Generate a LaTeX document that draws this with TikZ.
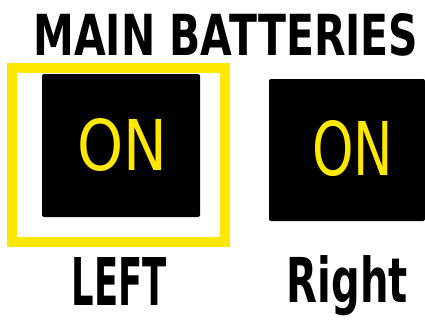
\documentclass[tikz,border=0pt]{standalone}
\usepackage{graphicx}
\usepackage{fontspec}
\setmainfont{DejaVu Sans}
\usetikzlibrary{positioning}
\definecolor{swyellow}{HTML}{FFE800}
\tikzset{
  panel/.style = {rectangle, fill=black, rounded corners=2pt, inner sep=0pt},
  frame/.style = {rectangle, draw=swyellow, line width=10pt, inner sep=0pt},
  onlbl/.style = {text=swyellow, font=\normalfont, inner sep=0pt, anchor=base},
  hand/.style  = {text=black, font=\bfseries, inner sep=0pt, anchor=base},
}
\begin{document}
\begin{tikzpicture}[x=1pt,y=-1pt]
  \useasboundingbox (0,0) rectangle (425,321);
  \node[hand] (title) at (226,55) {\resizebox{385pt}{42pt}{MAIN BATTERIES}};
  % left switch, selected
  \node[frame, minimum width=213pt, minimum height=174pt] (sel) at (118.5,155) {};
  \node[panel, minimum width=158pt, minimum height=143pt] (leftsw) at (121,145.5) {};
  \node[onlbl] (lefton) at (122,170) {\resizebox{90pt}{52pt}{ON}};
  % right switch
  \node[panel, minimum width=156pt, minimum height=142pt] (rightsw) at (347,150) {};
  \node[onlbl] (righton) at (352.5,175) {\resizebox{81pt}{55pt}{ON}};
  \node[hand] (leftlbl) at (119.5,305) {\resizebox{95pt}{48pt}{LEFT}};
  \node[hand] (rightlbl) at (347.5,302) {\resizebox{121pt}{47pt}{Right}};
\end{tikzpicture}
\end{document}
